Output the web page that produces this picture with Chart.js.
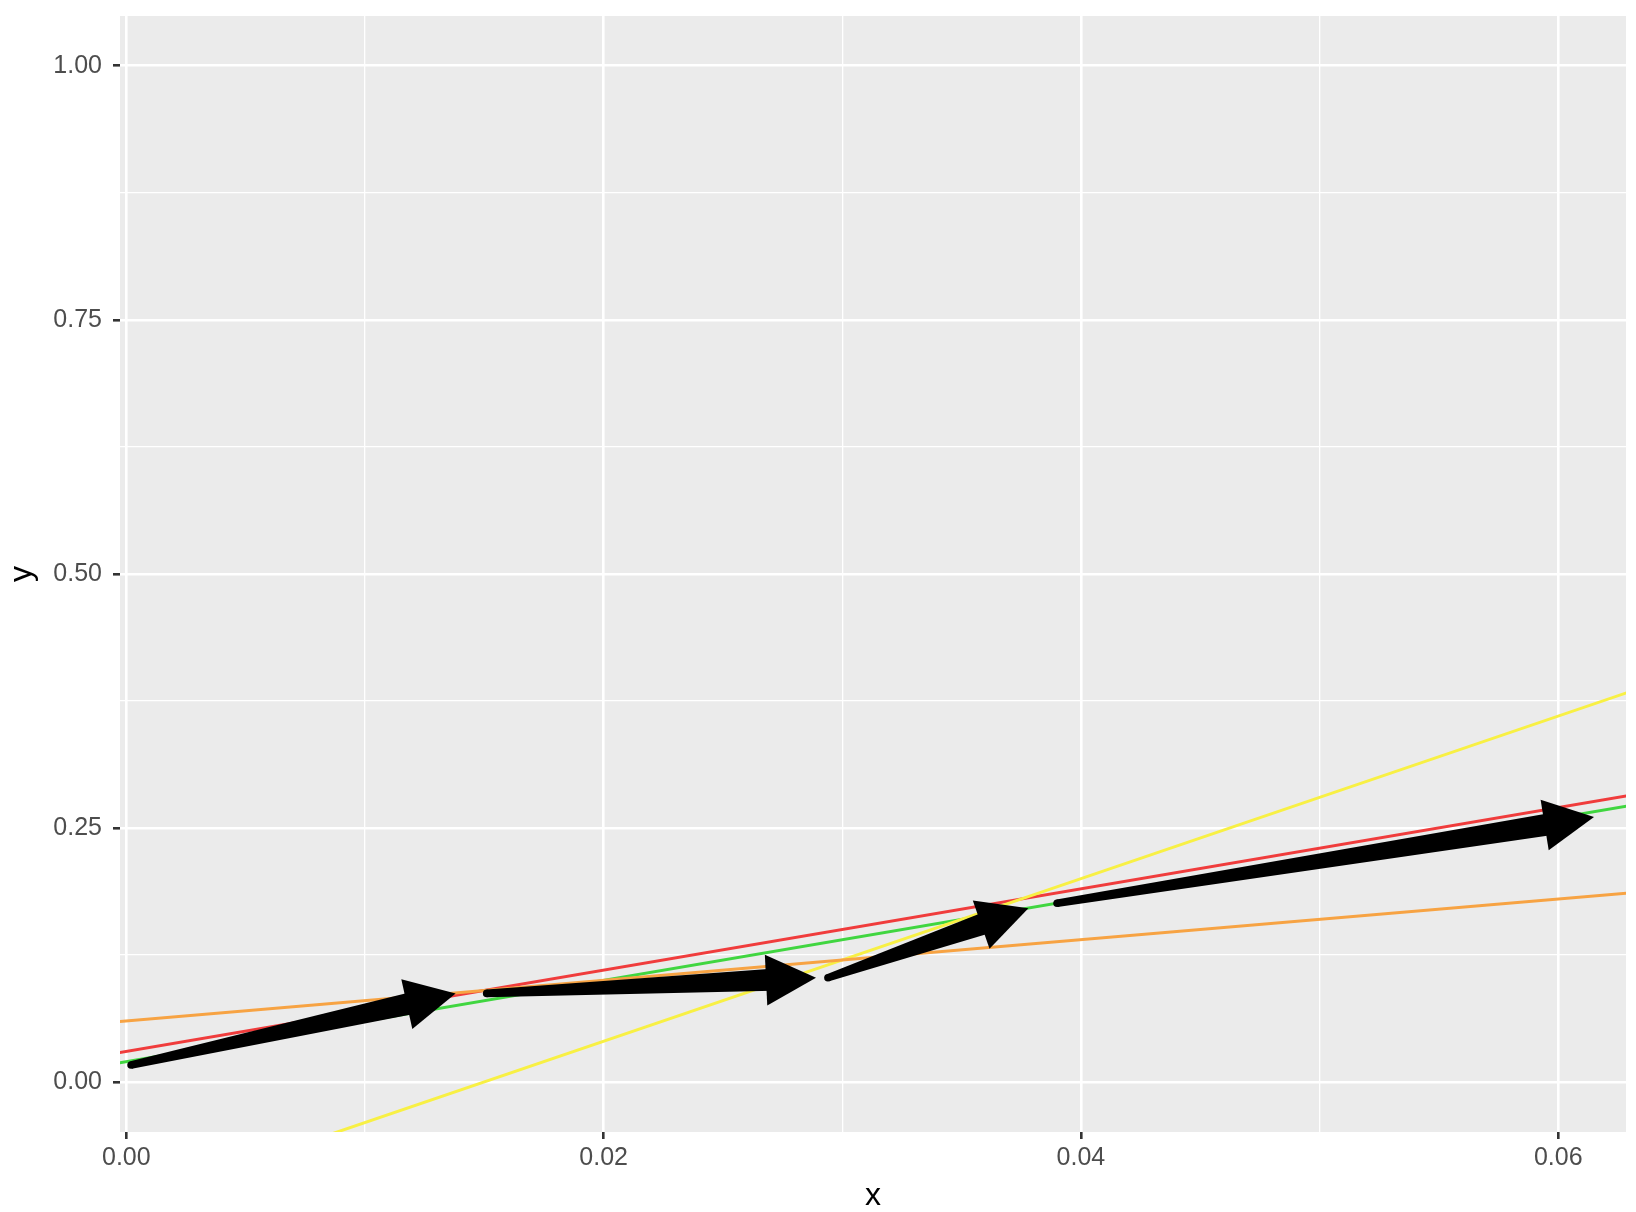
<!DOCTYPE html>
<html>
<head>
<meta charset="utf-8">
<script src="https://cdn.jsdelivr.net/npm/chart.js@4.4.1/dist/chart.umd.min.js"></script>
<style>
html, body { margin: 0; padding: 0; background: #fff; }
#wrap { width: 1636px; height: 1212px; }
</style>
</head>
<body>
<div id="wrap"><canvas id="chart" width="1636" height="1212"></canvas></div>
<script>
const lineX = [-0.01, 0.07];
const redY = [-0.01, 0.31];
const greenY = [-0.02, 0.30];
const orangeY = [0.04, 0.20];
const yellowY = [-0.20, 0.44];

// arrow segments (start -> tip)
const arrowX0 = [0.0002, 0.0151, 0.0294, 0.0390];
const arrowY0 = [0.0166, 0.0871, 0.1025, 0.1758];
const arrowX1 = [0.0138, 0.0289, 0.0378, 0.0615];
const arrowY1 = [0.0871, 0.1025, 0.1709, 0.2606];

// axis ticks
const xTicks = [0, 0.01, 0.02, 0.03, 0.04, 0.05, 0.06];
const xMajor = [0, 0.02, 0.04, 0.06];
const yTicks = [0, 0.125, 0.25, 0.375, 0.5, 0.625, 0.75, 0.875, 1];
const yMajor = [0, 0.25, 0.5, 0.75, 1];

const FONT = "'Liberation Sans', Arial, sans-serif";

// grey panel behind the grid
const panelBg = {
  id: 'panelBg',
  beforeDraw(chart) {
    const { ctx, chartArea } = chart;
    ctx.save();
    ctx.fillStyle = '#fff';
    ctx.fillRect(0, 0, chart.width, chart.height);
    ctx.fillStyle = '#EBEBEB';
    ctx.fillRect(chartArea.left, chartArea.top, chartArea.width, chartArea.height);
    ctx.restore();
  }
};

// black tapered arrows on top of the lines
const headLen = 50, headW = 25.5, tailW = 3.8, baseW = 11;
const arrows = {
  id: 'arrows',
  afterDatasetsDraw(chart) {
    const { ctx, chartArea, scales: { x, y } } = chart;
    ctx.save();
    ctx.beginPath();
    ctx.rect(chartArea.left, chartArea.top, chartArea.width, chartArea.height);
    ctx.clip();
    ctx.fillStyle = '#000';
    for (let i = 0; i < arrowX0.length; i++) {
      const x0 = x.getPixelForValue(arrowX0[i]), y0 = y.getPixelForValue(arrowY0[i]);
      const x1 = x.getPixelForValue(arrowX1[i]), y1 = y.getPixelForValue(arrowY1[i]);
      const len = Math.hypot(x1 - x0, y1 - y0);
      const ux = (x1 - x0) / len, uy = (y1 - y0) / len;
      const px = -uy, py = ux;
      const bx = x1 - ux * headLen, by = y1 - uy * headLen;
      const ex = bx + ux * 6, ey = by + uy * 6;
      // shaft, widening towards the head
      ctx.beginPath();
      ctx.moveTo(x0 + px * tailW, y0 + py * tailW);
      ctx.lineTo(ex + px * baseW, ey + py * baseW);
      ctx.lineTo(ex - px * baseW, ey - py * baseW);
      ctx.lineTo(x0 - px * tailW, y0 - py * tailW);
      ctx.closePath();
      ctx.fill();
      ctx.beginPath();
      ctx.arc(x0, y0, tailW, 0, Math.PI * 2);
      ctx.fill();
      // head
      ctx.beginPath();
      ctx.moveTo(x1, y1);
      ctx.lineTo(bx + px * headW, by + py * headW);
      ctx.lineTo(bx - px * headW, by - py * headW);
      ctx.closePath();
      ctx.fill();
    }
    ctx.restore();
  }
};

const mkLine = (ys, color) => ({
  data: lineX.map((v, i) => ({ x: v, y: ys[i] })),
  borderColor: color,
  borderWidth: 3,
  pointRadius: 0,
  fill: false,
  tension: 0
});

new Chart(document.getElementById('chart').getContext('2d'), {
  type: 'line',
  data: {
    datasets: [
      mkLine(orangeY, '#F7A343'),
      mkLine(yellowY, '#F8F044'),
      mkLine(redY, '#F03C3C'),
      mkLine(greenY, '#40D640')
    ]
  },
  options: {
    responsive: false,
    animation: false,
    devicePixelRatio: 1,
    layout: { padding: { top: 16, right: 10, left: 0, bottom: 0 } },
    plugins: { legend: { display: false }, tooltip: { enabled: false } },
    scales: {
      x: {
        type: 'linear',
        min: -0.000264,
        max: 0.06284,
        afterBuildTicks: s => { s.ticks = xTicks.map(v => ({ value: v })); },
        afterFit: s => { s.height = 80; s.paddingLeft = 0; s.paddingRight = 0; },
        border: { display: false },
        grid: {
          color: '#fff',
          lineWidth: c => xMajor.includes(c.tick.value) ? 2.6 : 1.3,
          drawTicks: true,
          tickLength: 7,
          tickWidth: 2.6,
          tickColor: c => xMajor.includes(c.tick.value) ? '#333' : 'rgba(0,0,0,0)'
        },
        ticks: {
          autoSkip: false,
          maxRotation: 0,
          padding: 4,
          color: '#4D4D4D',
          font: { family: FONT, size: 25 },
          callback: v => xMajor.includes(v) ? v.toFixed(2) : ''
        },
        title: {
          display: true,
          text: 'x',
          color: '#000',
          font: { family: FONT, size: 32, lineHeight: 1 },
          padding: { top: 0, bottom: 0 }
        }
      },
      y: {
        type: 'linear',
        min: -0.0493,
        max: 1.049,
        afterBuildTicks: s => { s.ticks = yTicks.map(v => ({ value: v })); },
        afterFit: s => { s.width = 120; s.paddingTop = 0; s.paddingBottom = 0; },
        border: { display: false },
        grid: {
          color: '#fff',
          lineWidth: c => yMajor.includes(c.tick.value) ? 2.6 : 1.3,
          drawTicks: true,
          tickLength: 7,
          tickWidth: 2.6,
          tickColor: c => yMajor.includes(c.tick.value) ? '#333' : 'rgba(0,0,0,0)'
        },
        ticks: {
          autoSkip: false,
          padding: 11,
          color: '#4D4D4D',
          font: { family: FONT, size: 25 },
          callback: v => yMajor.includes(v) ? v.toFixed(2) : ''
        },
        title: {
          display: true,
          text: 'y',
          color: '#000',
          font: { family: FONT, size: 32 },
          padding: { top: 3, bottom: 0 }
        }
      }
    }
  },
  plugins: [panelBg, arrows]
});
</script>
</body>
</html>
